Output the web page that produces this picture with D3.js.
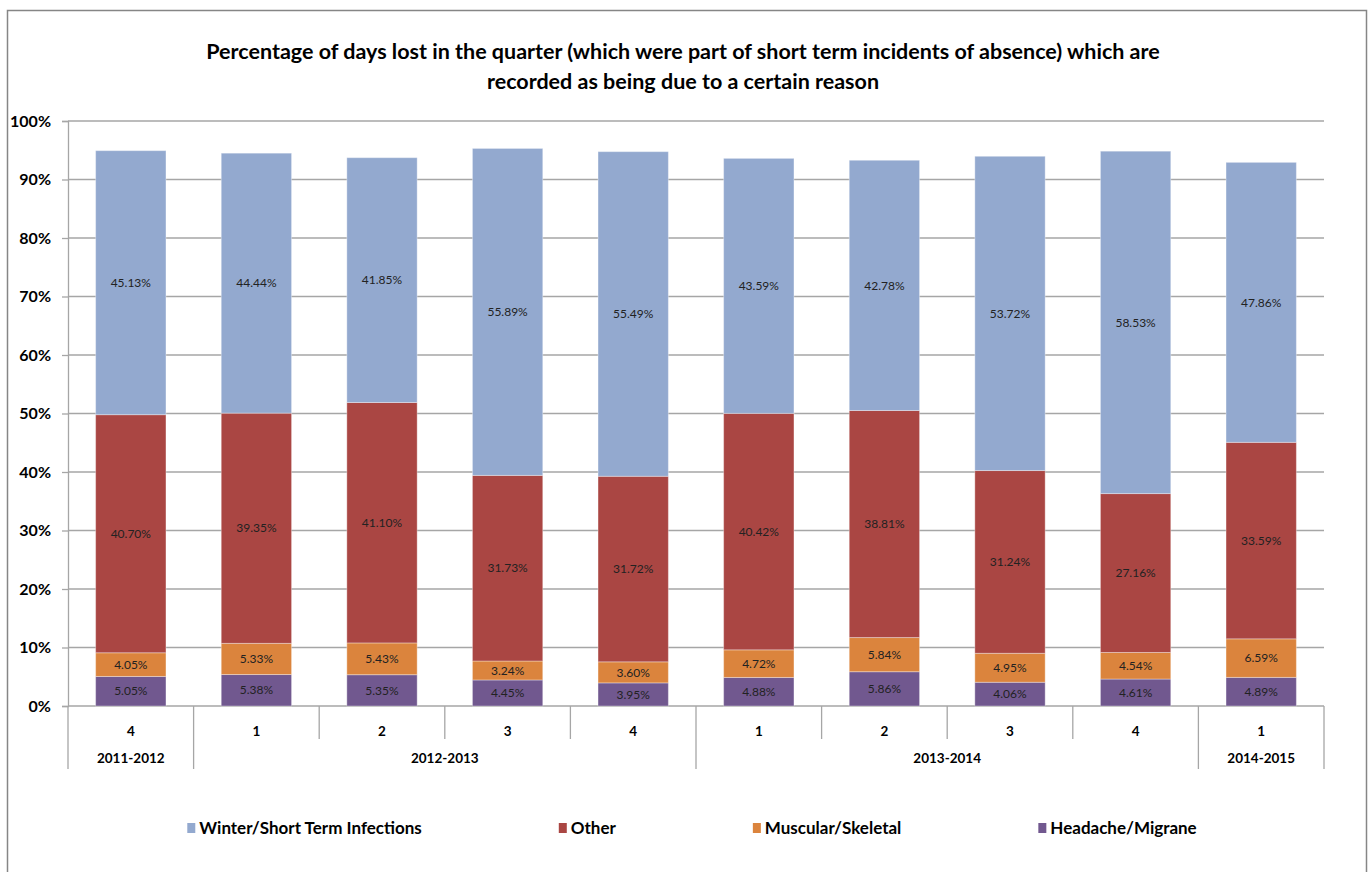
<!DOCTYPE html>
<html>
<head>
<meta charset="utf-8">
<script src="https://cdn.jsdelivr.net/npm/d3@7"></script>
<style>
  body { margin: 0; background: #fff; }
  svg { display: block; font-family: Lato, "Open Sans", sans-serif; }
</style>
</head>
<body>
<svg id="canvas" width="1368" height="872"></svg>
<script>
let quarters = ['4', '1', '2', '3', '4', '1', '2', '3', '4', '1']
let years = [
    { name: '2011-2012', from: 0, to: 1 },
    { name: '2012-2013', from: 1, to: 5 },
    { name: '2013-2014', from: 5, to: 9 },
    { name: '2014-2015', from: 9, to: 10 }
]

// stacked bottom to top
let seriesNames = ['Headache/Migrane', 'Muscular/Skeletal', 'Other', 'Winter/Short Term Infections']
let seriesColors = ['#71588F', '#DB843D', '#AA4643', '#93A9CF']

let headache = [5.05, 5.38, 5.35, 4.45, 3.95, 4.88, 5.86, 4.06, 4.61, 4.89]
let muscular = [4.05, 5.33, 5.43, 3.24, 3.60, 4.72, 5.84, 4.95, 4.54, 6.59]
let other = [40.70, 39.35, 41.10, 31.73, 31.72, 40.42, 38.81, 31.24, 27.16, 33.59]
let winter = [45.13, 44.44, 41.85, 55.89, 55.49, 43.59, 42.78, 53.72, 58.53, 47.86]

let yTicks = [0, 0.1, 0.2, 0.3, 0.4, 0.5, 0.6, 0.7, 0.8, 0.9, 1]

let canvas = d3.select('#canvas')

let plotLeft = 68, plotRight = 1324, plotTop = 121, plotBottom = 706

// chart frame
canvas.append('rect')
    .attr('x', 7.5).attr('y', 10.5)
    .attr('width', 1359).attr('height', 880)
    .attr('fill', 'none').attr('stroke', '#868686').attr('stroke-width', 1.5)

// title
let title = canvas.append('text')
    .attr('text-anchor', 'middle')
    .attr('font-size', 21.5)
    .attr('font-weight', 'bold')
    .attr('fill', '#000')
title.append('tspan').attr('x', 683).attr('y', 59)
    .text('Percentage of days lost in the quarter (which were part of short term incidents of absence) which are')
title.append('tspan').attr('x', 683).attr('y', 89)
    .text('recorded as being due to a certain reason')

let x = d3.scaleBand()
    .domain(d3.range(quarters.length))
    .range([plotLeft, plotRight])
    .paddingInner(0.44)
    .paddingOuter(0.22)

let y = d3.scaleLinear()
    .domain([0, 1])
    .range([plotBottom, plotTop])

// gridlines
canvas.append('g')
    .selectAll('line')
    .data(yTicks)
    .enter()
    .append('line')
    .attr('x1', plotLeft).attr('x2', plotRight)
    .attr('y1', d => y(d)).attr('y2', d => y(d))
    .attr('stroke', '#A6A6A6').attr('stroke-width', 1.3)

// y axis
let yAxis = canvas.append('g')
    .attr('transform', 'translate(' + plotLeft + ',0)')
    .call(d3.axisLeft(y).tickValues(yTicks).tickFormat(d3.format('.0%')).tickSize(6).tickPadding(11))
yAxis.select('.domain').attr('stroke', '#A6A6A6').attr('stroke-width', 1.3)
yAxis.selectAll('.tick line').attr('stroke', '#A6A6A6').attr('stroke-width', 1.3)
yAxis.selectAll('.tick text')
    .attr('font-family', 'Lato, sans-serif')
    .attr('font-size', 16).attr('font-weight', 'bold').attr('fill', '#000')

// stacked bars
let table = quarters.map((q, i) => ({
    i: i,
    'Headache/Migrane': headache[i] / 100,
    'Muscular/Skeletal': muscular[i] / 100,
    'Other': other[i] / 100,
    'Winter/Short Term Infections': winter[i] / 100
}))
let stacked = d3.stack().keys(seriesNames)(table)

let layers = canvas.append('g')
    .selectAll('g')
    .data(stacked)
    .enter()
    .append('g')
    .attr('fill', (d, k) => seriesColors[k])

layers.selectAll('rect')
    .data(d => d)
    .enter()
    .append('rect')
    .attr('x', d => x(d.data.i))
    .attr('width', x.bandwidth())
    .attr('y', d => y(d[1]))
    .attr('height', d => y(d[0]) - y(d[1]))
    .attr('stroke', 'rgba(255,255,255,0.35)')
    .attr('stroke-width', 1)

layers.selectAll('text')
    .data(d => d.map(v => ({ v: v, key: d.key })))
    .enter()
    .append('text')
    .attr('x', d => x(d.v.data.i) + x.bandwidth() / 2)
    .attr('y', d => (y(d.v[0]) + y(d.v[1])) / 2)
    .attr('dy', '0.35em')
    .attr('text-anchor', 'middle')
    .attr('font-size', 12)
    .attr('fill', '#222')
    .text(d => (d.v.data[d.key] * 100).toFixed(2) + '%')

// category axis
let xAxis = canvas.append('g')
    .attr('transform', 'translate(0,' + plotBottom + ')')
    .call(d3.axisBottom(x).tickFormat(i => quarters[i]).tickSize(0).tickPadding(20))
xAxis.select('.domain').remove()
xAxis.selectAll('.tick text')
    .attr('font-family', 'Lato, sans-serif')
    .attr('font-size', 13.5).attr('font-weight', 'bold').attr('fill', '#000')

let boundaryX = i => plotLeft + i * x.step()
let groupEdges = new Set(years.map(d => d.from).concat([quarters.length]))

canvas.append('g')
    .selectAll('line')
    .data(d3.range(quarters.length + 1))
    .enter()
    .append('line')
    .attr('x1', boundaryX).attr('x2', boundaryX)
    .attr('y1', plotBottom)
    .attr('y2', i => groupEdges.has(i) ? 769 : 739)
    .attr('stroke', '#A6A6A6').attr('stroke-width', 1.3)

canvas.append('g')
    .selectAll('text')
    .data(years)
    .enter()
    .append('text')
    .attr('x', d => (boundaryX(d.from) + boundaryX(d.to)) / 2)
    .attr('y', 763)
    .attr('text-anchor', 'middle')
    .attr('font-size', 13.5).attr('font-weight', 'bold').attr('fill', '#000')
    .text(d => d.name)

// legend
let legendOrder = [3, 2, 1, 0]
let legend = canvas.append('g')
let items = legend.selectAll('g')
    .data(legendOrder)
    .enter()
    .append('g')
items.append('rect')
    .attr('width', 8).attr('height', 10)
    .attr('y', -11)
    .attr('fill', k => seriesColors[k])
items.append('text')
    .attr('x', 12)
    .attr('font-size', 17)
    .attr('font-weight', 'bold')
    .attr('fill', '#000')
    .text(k => seriesNames[k])

let gap = 137
let widths = []
items.each(function () { widths.push(12 + d3.select(this).select('text').node().getComputedTextLength()) })
let total = d3.sum(widths) + gap * (widths.length - 1)
let cursor = 692 - total / 2
items.attr('transform', (k, j) => {
    let t = 'translate(' + cursor + ',834)'
    cursor += widths[j] + gap
    return t
})
</script>
</body>
</html>
